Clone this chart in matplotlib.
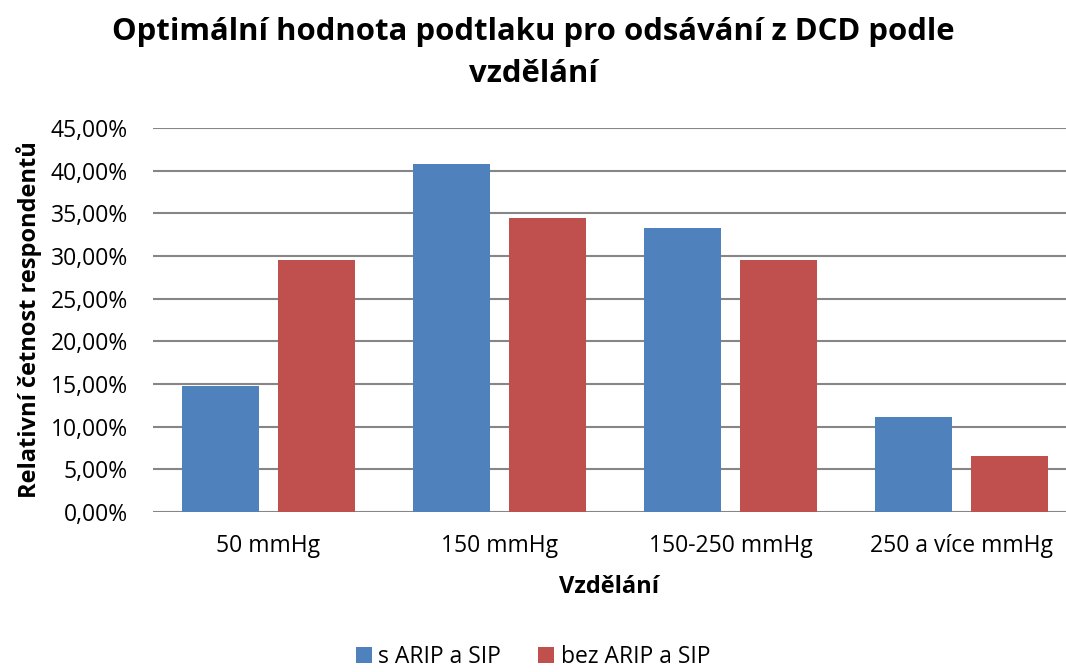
import numpy as np
import matplotlib.pyplot as plt
from matplotlib.ticker import FuncFormatter

plt.rcParams['font.family'] = ['Open Sans', 'DejaVu Sans']

categories = ['50 mmHg', '150 mmHg', '150-250 mmHg', '250 a více mmHg']
s_arip = [14.81, 40.74, 33.33, 11.11]
bez_arip = [29.51, 34.43, 29.51, 6.56]
series_names = ['s ARIP a SIP', 'bez ARIP a SIP']

x = np.arange(len(categories))
w = 0.333

fig = plt.figure(figsize=(10.66, 6.72), dpi=100)
ax = fig.add_axes([0.1435, 0.238, 0.8565, 0.5715])

ax.bar(x - 0.207, s_arip, w, color='#4f81bd', label=series_names[0], zorder=3)
ax.bar(x + 0.207, bez_arip, w, color='#c0504d', label=series_names[1], zorder=3)

ax.set_ylim(0, 45)
ax.set_xlim(-0.5, 3.452)
ax.set_yticks(np.arange(0, 46, 5))
ax.yaxis.set_major_formatter(FuncFormatter(lambda v, p: f'{v:.2f}%'.replace('.', ',')))
ax.set_xticks(x)
ax.set_xticklabels(categories)
ax.tick_params(axis='both', length=0, labelsize=16.5)
ax.tick_params(axis='y', pad=18)
ax.tick_params(axis='x', pad=16)
ax.grid(axis='y', color='#868686', linewidth=1.5, zorder=0)
for s in ax.spines.values():
    s.set_visible(False)

ax.set_ylabel('Relativní četnost respondentů', fontsize=17, fontweight='bold', labelpad=6)
ax.set_xlabel('Vzdělání', fontsize=17, fontweight='bold', labelpad=12)

fig.suptitle('Optimální hodnota podtlaku pro odsávání z DCD podle\nvzdělání',
             x=0.5, y=0.975, fontsize=22.4, fontweight='bold', linespacing=1.55)

fig.legend(loc='center', bbox_to_anchor=(0.5, 0.022), ncol=2, frameon=False,
           fontsize=16.5, handlelength=0.7, handleheight=0.7, handletextpad=0.3,
           columnspacing=1.6)

fig.savefig('out.png', dpi=100)
